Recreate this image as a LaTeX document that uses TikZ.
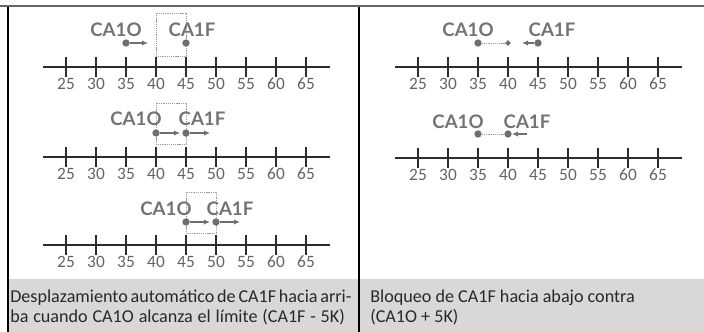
\documentclass[tikz,border=0pt]{standalone}
\usepackage{fontspec}
\setmainfont[Numbers=Lining]{Carlito}
\newfontfamily\tagfont{Lato}
\usetikzlibrary{positioning,arrows.meta,shapes.geometric}
\definecolor{ink}{RGB}{45,45,45}
\definecolor{numgray}{RGB}{100,100,100}
\definecolor{taggray}{RGB}{115,115,115}
\definecolor{dotgray}{RGB}{110,110,110}
\definecolor{limgray}{RGB}{155,155,155}
\definecolor{rulegray}{RGB}{100,100,100}
\definecolor{bandgray}{RGB}{216,216,216}
\definecolor{textdark}{RGB}{40,40,40}

\begin{document}
\begin{tikzpicture}[x=0.75pt, y=-0.75pt,
  axisline/.style={draw=ink, line width=1.6pt},
  tickmark/.style={draw=ink, line width=1.3pt},
  num/.style={text=numgray, font=\fontsize{13}{14}\selectfont, inner sep=0},
  tagtext/.style={text=taggray, font=\tagfont\fontsize{14}{15}\selectfont\bfseries, inner sep=0},
  knob/.style={circle, fill=dotgray, inner sep=0, minimum size=5.5pt},
  stopmark/.style={diamond, fill=dotgray, inner sep=0, minimum size=4.5pt},
  push/.style={-{Latex[length=4.5pt,width=4pt]}, line width=1.2pt, draw=dotgray},
  limitline/.style={draw=limgray, dash pattern=on 0.8pt off 0.6pt, line width=0.6pt},
  captext/.style={anchor=west, align=left, inner sep=0, text=textdark, font=\fontsize{13.6}{15}\selectfont}]
  \useasboundingbox (0,0) rectangle (704,332);
  \fill[bandgray] (8,279) rectangle (704,332);
  \draw[rulegray, line width=1.5pt] (0,6) -- (704,6);
  \draw[black, line width=0.8pt] (8,6.5) -- (8,332);
  \draw[black, line width=0.8pt] (359,6.5) -- (359,332);

  \foreach \xo/\y in {-84/67, -84/157, -84/245, 268/67, 268/158} {
    \draw[axisline] (\xo+127,\y) -- (\xo+414,\y);
    \foreach \v in {25,30,...,65} {
      \draw[tickmark] (\xo+6*\v,\y-10) -- (\xo+6*\v,\y+10);
      \node[num] at (\xo+6*\v,\y+17) {\v};
    }
  }

  \draw[limitline] (156,13) rectangle (186,56);
  \node[tagtext] (o1t) at (116,30) {CA1O};
  \node[tagtext] (f1t) at (192,30) {CA1F};
  \node[knob] (o1) at (126,43) {};
  \node[knob] (f1) at (186,43) {};
  \coordinate (o1e) at (148,43);
  \draw[push] (o1) -- (o1e);

  \draw[limitline] (156,103) rectangle (186,144);
  \node[tagtext] (o2t) at (136,119) {CA1O};
  \node[tagtext] (f2t) at (202,119) {CA1F};
  \node[knob] (o2) at (156,133) {};
  \node[knob] (f2) at (186,133) {};
  \coordinate (o2e) at (180,133);
  \coordinate (f2e) at (210,133);
  \draw[push] (o2) -- (o2e);
  \draw[push] (f2) -- (f2e);

  \draw[limitline] (186,192) rectangle (216,233);
  \node[tagtext] (o3t) at (166,209) {CA1O};
  \node[tagtext] (f3t) at (230,209) {CA1F};
  \node[knob] (o3) at (186,222) {};
  \node[knob] (f3) at (216,222) {};
  \coordinate (o3e) at (210,222);
  \coordinate (f3e) at (240,222);
  \draw[push] (o3) -- (o3e);
  \draw[push] (f3) -- (f3e);

  \node[tagtext] (o4t) at (468,30) {CA1O};
  \node[tagtext] (f4t) at (552,30) {CA1F};
  \node[knob] (o4) at (478,43) {};
  \node[stopmark] (l4) at (508,43) {};
  \node[knob] (f4) at (538,43) {};
  \coordinate (f4e) at (522,43);
  \draw[limitline] (o4) -- (l4);
  \draw[push] (f4) -- (f4e);

  \node[tagtext] (o5t) at (458,122) {CA1O};
  \node[tagtext] (f5t) at (527,122) {CA1F};
  \node[knob] (o5) at (478,134) {};
  \node[knob] (f5) at (508,134) {};
  \coordinate (f5s) at (527,134);
  \draw[limitline] (o5) -- (f5);
  \draw[push] (f5s) -- (f5);

  \node[captext] (capl) at (10,307.5) {\makebox[251pt][s]{Desplazamiento automático de CA1F hacia arri-}\\\makebox[251pt][s]{ba cuando CA1O alcanza el límite (CA1F - 5K)}};
  \node[captext] (capr) at (370,307.5) {Bloqueo de CA1F hacia abajo contra\\(CA1O + 5K)};
\end{tikzpicture}
\end{document}
